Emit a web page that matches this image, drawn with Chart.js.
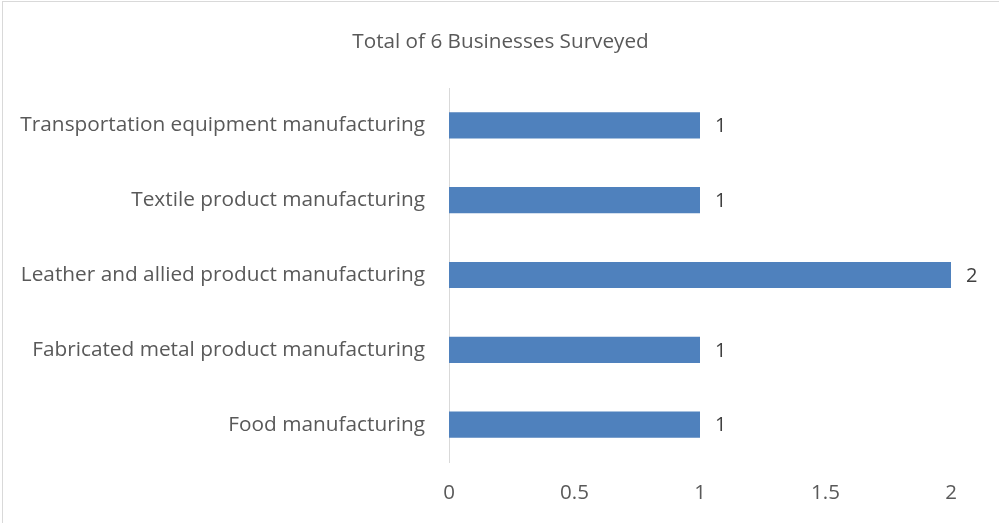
<!DOCTYPE html>
<html>
<head>
<meta charset="utf-8">
<script src="https://cdn.jsdelivr.net/npm/chart.js@4.4.1/dist/chart.umd.min.js"></script>
<style>
  html, body { margin: 0; padding: 0; background: #fff; }
  #wrap { position: relative; width: 999px; height: 523px; overflow: hidden; }
  #frame { position: absolute; left: 2px; top: 1px; width: 1100px; height: 600px; border: 1px solid #d9d9d9; box-sizing: border-box; }
  canvas { position: absolute; left: 0; top: 0; }
</style>
</head>
<body>
<div id="wrap">
  <div id="frame"></div>
  <canvas id="chart" width="999" height="523"></canvas>
</div>
<script>
const chartTitle = "Total of 6 Businesses Surveyed";
const industries = [
  "Transportation equipment manufacturing",
  "Textile product manufacturing",
  "Leather and allied product manufacturing",
  "Fabricated metal product manufacturing",
  "Food manufacturing"
];
const businessCounts = [1, 1, 2, 1, 1];
const xTicks = [0, 0.5, 1, 1.5, 2];

const FONT = "'Open Sans', sans-serif";
const TEXT = "#595959";

// title centred on the whole canvas, not just the padded layout box
const centeredTitle = {
  id: "centeredTitle",
  afterDraw(chart) {
    const ctx = chart.ctx;
    ctx.save();
    ctx.font = "20.7px " + FONT;
    ctx.fillStyle = TEXT;
    ctx.textAlign = "center";
    ctx.textBaseline = "middle";
    ctx.fillText(chartTitle, chart.width / 2 + 1, 42);
    ctx.restore();
  }
};

// writes the count just past the end of each bar
const valueLabels = {
  id: "valueLabels",
  afterDatasetsDraw(chart) {
    const ctx = chart.ctx;
    const meta = chart.getDatasetMeta(0);
    ctx.save();
    ctx.font = "20px " + FONT;
    ctx.fillStyle = "#404040";
    ctx.textAlign = "left";
    ctx.textBaseline = "middle";
    meta.data.forEach((bar, i) => {
      ctx.fillText(String(businessCounts[i]), bar.x + 15, bar.y + 1);
    });
    ctx.restore();
  }
};

const ctx = document.getElementById("chart").getContext("2d");
new Chart(ctx, {
  type: "bar",
  data: {
    labels: industries,
    datasets: [{
      data: businessCounts,
      backgroundColor: "#4f81bd",
      borderColor: "#4f81bd",
      borderWidth: 0,
      categoryPercentage: 1,
      barPercentage: 0.35
    }]
  },
  options: {
    indexAxis: "y",
    responsive: false,
    animation: false,
    layout: { padding: { left: 0, right: 48, top: 88, bottom: 0 } },
    plugins: {
      legend: { display: false },
      tooltip: { enabled: false },
      title: { display: false }
    },
    scales: {
      x: {
        min: 0,
        max: 2,
        afterBuildTicks(scale) {
          scale.ticks = xTicks.map(v => ({ value: v }));
        },
        afterFit(scale) { scale.height = 61; },
        grid: { display: false },
        border: { display: false },
        ticks: {
          color: TEXT,
          font: { family: FONT, size: 20.5 },
          padding: 11,
          maxRotation: 0,
          callback: (v) => String(v)
        }
      },
      y: {
        afterFit(scale) { scale.width = 449; },
        grid: { display: false },
        border: { display: true, color: "#d9d9d9", width: 1 },
        ticks: {
          color: TEXT,
          font: { family: FONT, size: 20.8 },
          padding: 16
        }
      }
    }
  },
  plugins: [valueLabels, centeredTitle]
});
</script>
</body>
</html>
